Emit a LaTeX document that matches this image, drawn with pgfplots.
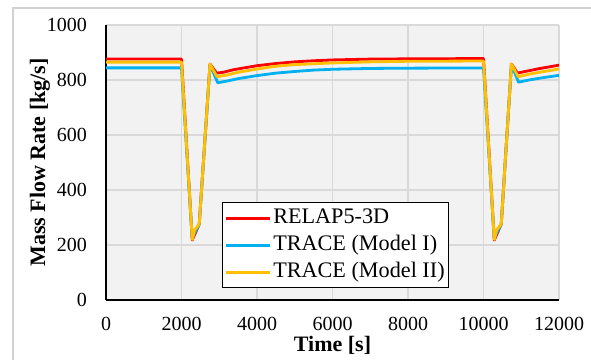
\documentclass[border=0pt]{standalone}
\usepackage{pgfplots}
\pgfplotsset{compat=1.18}
\usepackage{fontspec}
\setmainfont{Liberation Serif}
\definecolor{cred}{HTML}{FF0000}
\definecolor{cblue}{HTML}{00B0F0}
\definecolor{cyel}{HTML}{FFC000}
\definecolor{bggray}{HTML}{F2F2F2}
\definecolor{gridgray}{HTML}{D9D9D9}
\begin{document}
\begin{tikzpicture}[x=1bp,y=1bp]
\begin{axis}[
  scale only axis,
  width=226.5bp, height=137.5bp,
  xmin=0, xmax=12000, ymin=0, ymax=1000,
  xtick={0,2000,...,12000}, ytick={0,200,...,1000},
  axis x line=bottom, axis y line=left,
  axis line style={-, black, line width=1bp},
  major tick length=0pt,
  grid=major,
  major grid style={gridgray, line width=0.6bp},
  axis background/.style={fill=bggray},
  /pgf/number format/assume math mode=true,
  /pgf/number format/set thousands separator={},
  scaled ticks=false,
  tick label style={font=\fontsize{10bp}{12bp}\selectfont},
  xticklabel style={yshift=-5bp},
  yticklabel style={xshift=-6bp},
  xlabel={\textbf{Time [s]}},
  ylabel={\textbf{Mass Flow Rate [kg/s]}},
  every axis x label/.style={at={(axis description cs:0.5,0)}, anchor=center, yshift=-22.5bp, font=\fontsize{11bp}{13bp}\selectfont},
  every axis y label/.style={at={(axis description cs:-0.1457,0.5)}, rotate=90, anchor=center, font=\fontsize{11bp}{13bp}\selectfont},
  legend style={at={(0.256,0.356)}, anchor=north west, draw=black, line width=0.5bp, fill=white,
    font=\fontsize{11.1bp}{13bp}\selectfont, row sep=0bp, inner xsep=1bp, inner ysep=1bp,
    nodes={inner ysep=1.5bp, inner xsep=1bp, text height=8bp, text depth=2.5bp}},
  legend cell align=left,
  legend image code/.code={\path (0bp,0bp) -- (22bp,0bp); \draw[#1, line width=1.2bp] (7.5bp,0bp) -- (21.5bp,0bp);},
  every axis plot/.append style={line width=1.4bp, line join=round},
]
\addplot[cred] coordinates {
(0,876) (2000,876) (2285,218) (2470,276) (2755,858) (2930,825) (3100,828) (3400,838)
(4000,852) (4500,860) (5000,866) (5500,870) (6000,873) (7000,876) (8000,877)
(9000,877.5) (10000,878) (10285,218) (10470,276) (10740,858) (10900,825)
(11100,831) (11500,842) (12000,854)
};
\addlegendentry{RELAP5-3D}
\addplot[cblue] coordinates {
(0,844) (2000,844) (2285,222) (2350,245) (2470,275) (2755,855) (2960,790)
(3200,796) (3500,805) (4000,816) (4500,825) (5000,831) (5500,836) (6000,839)
(7000,842) (8000,843) (10000,844) (10285,222) (10350,245) (10470,275)
(10740,855) (10930,792) (11200,800) (11600,809) (12000,817)
};
\addlegendentry{TRACE (Model I)}
\addplot[cyel] coordinates {
(0,865) (2000,865) (2285,220) (2350,255) (2470,276) (2755,858) (2940,812)
(3200,818) (3500,828) (4000,840) (4500,850) (5000,856) (5500,859) (6000,862)
(7000,866) (8000,868) (10000,869) (10285,220) (10350,255) (10470,276)
(10740,858) (10920,812) (11200,821) (11600,831) (12000,840)
};
\addlegendentry{TRACE (Model II)}
\end{axis}
\pgfresetboundingbox
\useasboundingbox (-53bp,-30bp) rectangle (242.5bp,150bp);
\draw[gray!35, line width=0.6bp] (-46.5bp,-30bp) -- (-46.5bp,146bp) -- (242.5bp,146bp);
\end{tikzpicture}
\end{document}
